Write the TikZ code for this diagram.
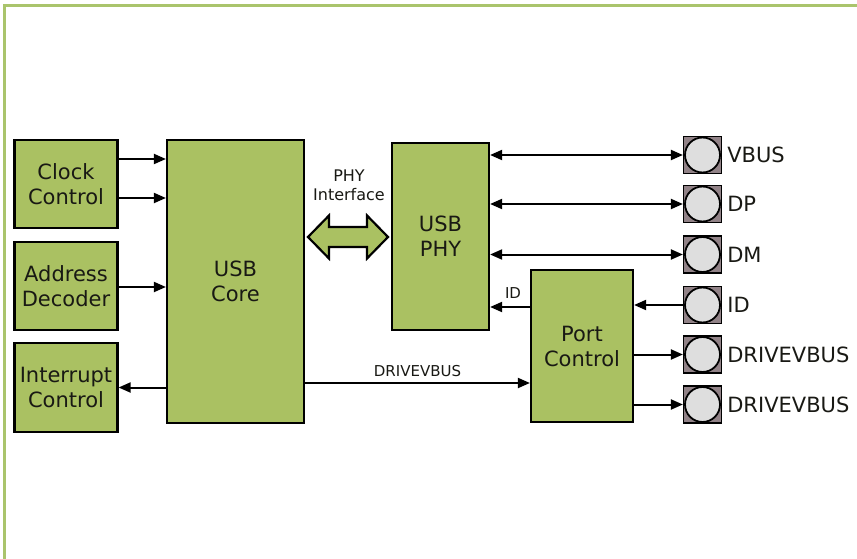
\documentclass[tikz,border=0pt]{standalone}
\usepackage{fontspec}
\setmainfont{DejaVu Sans}
\usetikzlibrary{arrows.meta}
\definecolor{boxgreen}{RGB}{170,193,98}
\definecolor{framegreen}{RGB}{170,196,108}
\definecolor{padcol}{RGB}{145,130,135}
\definecolor{padc}{RGB}{222,222,222}
\definecolor{txt}{RGB}{25,25,20}
\begin{document}
\begin{tikzpicture}[x=1pt,y=-1pt,
 blk/.style={draw=black, line width=2.2pt, fill=boxgreen, inner sep=0pt, align=center, text=txt, font=\fontsize{21}{25}\selectfont},
 lnk/.style={line width=2pt, -{Triangle[length=12pt,width=10pt]}},
 blnk/.style={line width=2pt, {Triangle[length=12pt,width=10pt]}-{Triangle[length=12pt,width=10pt]}},
 padbox/.style={draw=black, line width=1.2pt, fill=padcol, minimum width=38pt, minimum height=37pt, inner sep=0pt},
 pinlbl/.style={anchor=west, text=txt, font=\fontsize{21}{25}\selectfont, inner sep=0pt},
 smalltxt/.style={text=txt, font=\fontsize{16}{19}\selectfont, align=center, inner sep=0pt}]
\useasboundingbox (0,0) rectangle (857,559);
\fill[white] (0,0) rectangle (857,559);
\draw[framegreen, line width=3pt] (4.5,559) -- (4.5,6) -- (857,6);

% blocks
\node[blk, minimum width=103pt, minimum height=88pt] (clk) at (66,184) {Clock\\Control};
\node[blk, minimum width=103pt, minimum height=88pt] (addr) at (66,286) {Address\\Decoder};
\node[blk, minimum width=103pt, minimum height=89pt] (intr) at (66,387.5) {Interrupt\\Control};
\node[blk, minimum width=137pt, minimum height=283pt] (core) at (235.5,281.5) {USB\\Core};
\node[blk, minimum width=97pt, minimum height=187pt] (phy) at (440.5,236.5) {USB\\PHY};
\node[blk, minimum width=102pt, minimum height=152pt] (port) at (582,346) {Port\\Control};

% left arrows
\draw[lnk] ([yshift=25pt]clk.east) coordinate (c1) -- (c1 -| core.west);
\draw[lnk] ([yshift=-14pt]clk.east) coordinate (c2) -- (c2 -| core.west);
\draw[lnk] ([yshift=-1pt]addr.east) coordinate (a1) -- (a1 -| core.west);
\draw[lnk] (intr.east -| core.west) -- (intr.east);

% PHY interface
\coordinate (pif) at (348,237);
\draw[line width=2.2pt, fill=boxgreen, line join=miter]
  ([xshift=-40pt]pif) -- ([xshift=-19pt,yshift=21.5pt]pif) -- ([xshift=-19pt,yshift=10pt]pif)
  -- ([xshift=19pt,yshift=10pt]pif) -- ([xshift=19pt,yshift=21.5pt]pif) -- ([xshift=40pt]pif)
  -- ([xshift=19pt,yshift=-21.5pt]pif) -- ([xshift=19pt,yshift=-10pt]pif)
  -- ([xshift=-19pt,yshift=-10pt]pif) -- ([xshift=-19pt,yshift=-21.5pt]pif) -- cycle;
\node[smalltxt] (piflbl) at (349,185) {PHY\\Interface};

% ID to PHY
\draw[lnk] ([yshift=39pt]port.west) coordinate (i1) -- (i1 -| phy.east);
\node[smalltxt, font=\fontsize{15}{18}\selectfont] (idlbl) at (513,293) {ID};

% DRIVEVBUS core -> port
\draw[lnk] ([yshift=-101.5pt]core.east) coordinate (d1) -- (d1 -| port.west)
  node[midway, above=5pt, smalltxt, font=\fontsize{15}{18}\selectfont] (dvlbl) {DRIVEVBUS};

% pads
\foreach \n/\y/\t in {p1/155/VBUS, p2/204/DP, p3/254.5/DM, p4/305/ID, p5/354.5/DRIVEVBUS, p6/404.5/DRIVEVBUS}{
  \node[padbox] (\n) at (702.5,\y) {};
  \draw[fill=padc, line width=1.8pt] (\n.center) circle (17.5pt);
  \node[pinlbl] (\n lbl) at ([xshift=5pt]\n.east) {\t};
}

% pad connectors
\draw[blnk] (p1.west -| phy.east) -- (p1.west);
\draw[blnk] (p2.west -| phy.east) -- (p2.west);
\draw[blnk] (p3.west -| phy.east) -- (p3.west);
\draw[lnk] (p4.west) -- (p4.west -| port.east);
\draw[lnk] (p5.west -| port.east) -- (p5.west);
\draw[lnk] (p6.west -| port.east) -- (p6.west);
\end{tikzpicture}
\end{document}
